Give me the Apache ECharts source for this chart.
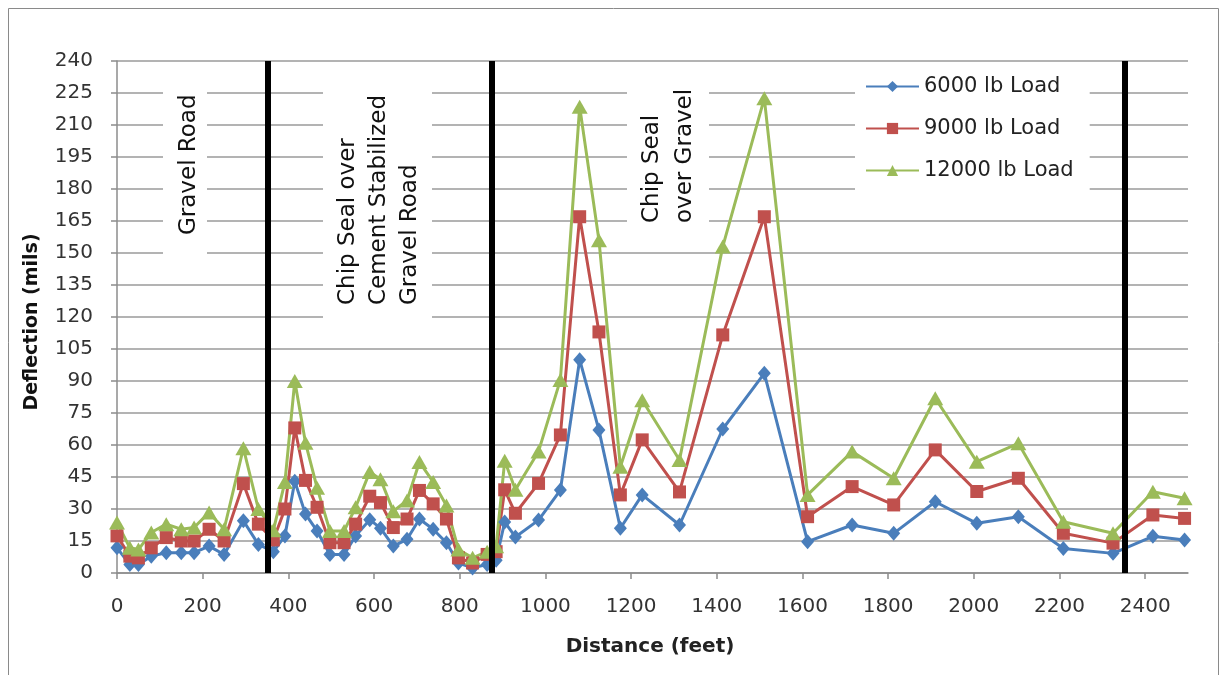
<!DOCTYPE html>
<html>
<head>
<meta charset="utf-8">
<script src="https://cdn.jsdelivr.net/npm/echarts@6/dist/echarts.min.js"></script>
<style>
html,body{margin:0;padding:0;background:#fff;}
#chart{width:1225px;height:675px;}
</style>
</head>
<body>
<div id="chart"></div>
<script>
// Distance along the road (feet)
var distance = [0, 30, 50, 80, 115, 150, 180, 215, 250, 295, 330, 365,
  392, 415, 440, 467, 497, 530, 557, 590, 615, 645, 677, 706, 738, 769, 797, 830, 864, 885,
  905, 930, 984, 1035, 1080, 1125, 1175, 1226, 1313, 1414, 1511, 1612, 1716, 1813, 1910, 2007, 2104, 2209, 2325, 2418, 2492];
// Deflection (mils)
var load6000 = [11.8, 4, 4, 7.9, 9.5, 9.5, 9.5, 12.6, 8.7, 24.5, 13.4, 10,
  17.4, 43, 27.6, 19.7, 8.7, 8.7, 17.4, 25, 21, 12.6, 15.8, 25.3, 20.5, 14.2, 4.7, 2.4, 4, 6,
  23.9, 16.9, 24.8, 38.9, 100, 67, 21, 36.6, 22.5, 67.5, 93.6, 14.7, 22.5, 18.6, 33.4, 23.3, 26.4, 11.5, 9.2, 17.2, 15.5];
var load9000 = [17.4, 7.9, 7.1, 11.8, 16.6, 15, 15, 20.5, 15, 41.9, 22.9, 15.5,
  30, 68, 43.4, 30.8, 14.2, 14.2, 22.9, 36, 33, 21.3, 25.3, 38.7, 32.4, 25.3, 7.1, 4.7, 8.7, 10,
  39, 28, 42, 64.7, 167, 113, 36.6, 62.4, 38, 111.6, 167, 26.4, 40.5, 31.9, 57.7, 38.2, 44.4, 18.6, 14, 27.2, 25.6];
var load12000 = [23.7, 11.8, 11, 19, 22.9, 20.5, 21.3, 28.4, 20.5, 58.5, 30, 20,
  42.7, 90, 61, 40, 19.7, 19.7, 30.8, 47.4, 44, 29, 34, 52, 42.7, 31.6, 11, 7.1, 10, 12.5,
  52.6, 39, 57, 90.5, 218.6, 156, 49.8, 81, 53, 153, 222.5, 36.6, 56.9, 44.4, 81.9, 52.2, 60.8, 24, 18.6, 38.1, 35];
var seriesNames = ['6000 lb Load', '9000 lb Load', '12000 lb Load'];
var sectionBreaks = [353, 874, 2352];
var sectionLabels = [['Gravel Road'], ['Chip Seal over', 'Cement Stabilized', 'Gravel Road'], ['Chip Seal', 'over Gravel']];

function pairs(vals) { return distance.map(function (d, i) { return [d, vals[i]]; }); }

var FONT = 'DejaVu Sans';
var chart = echarts.init(document.getElementById('chart'));

function rotText(x, y, txt, size, bold, align) {
  return {
    type: 'text', x: x, y: y, rotation: Math.PI / 2, z: 3,
    style: {
      text: txt, fill: '#111',
      font: (bold ? 'bold ' : '') + size + 'px "' + FONT + '"',
      align: align, verticalAlign: 'middle',
      textAlign: align, textVerticalAlign: 'middle'
    }
  };
}

var graphics = [
  { type: 'rect', shape: { x: 8.5, y: 8.5, width: 1210, height: 700 }, style: { fill: 'none', stroke: '#8a8a8a', lineWidth: 1 }, z: 0, silent: true },
  { type: 'rect', shape: { x: 163, y: 64, width: 44, height: 198 }, style: { fill: '#fff' }, z: 1, silent: true },
  { type: 'rect', shape: { x: 323, y: 64, width: 109, height: 258 }, style: { fill: '#fff' }, z: 1, silent: true },
  { type: 'rect', shape: { x: 627, y: 64, width: 82, height: 166 }, style: { fill: '#fff' }, z: 1, silent: true },
  rotText(189, 235, sectionLabels[0][0], 23, false, 'left'),
  rotText(348, 305, sectionLabels[1][0], 23, false, 'left'),
  rotText(379, 305, sectionLabels[1][1], 23, false, 'left'),
  rotText(410, 305, sectionLabels[1][2], 23, false, 'left'),
  rotText(652, 223, sectionLabels[2][0], 23, false, 'left'),
  rotText(685, 223, sectionLabels[2][1], 23, false, 'left'),
  rotText(32, 322, 'Deflection (mils)', 19, true, 'center'),
  { type: 'text', x: 650, y: 647, z: 3,
    style: { text: 'Distance (feet)', fill: '#222', font: 'bold 20px "' + FONT + '"',
      align: 'center', verticalAlign: 'middle', textAlign: 'center', textVerticalAlign: 'middle' } }
];

var axisColor = '#8c8c8c';
var option = {
  animation: false,
  backgroundColor: '#fff',
  grid: { left: 117, right: 37, top: 61, bottom: 102 },
  legend: {
    data: seriesNames,
    orient: 'vertical',
    left: 855, top: 62,
    padding: [14, 16, 14, 10],
    itemGap: 21,
    itemWidth: 53, itemHeight: 14,
    backgroundColor: '#fff',
    textStyle: { fontFamily: FONT, fontSize: 21, color: '#222' }
  },
  xAxis: {
    type: 'value', min: 0, max: 2500, interval: 200,
    splitLine: { show: false },
    axisLine: { show: true, lineStyle: { color: axisColor, width: 1.5 } },
    axisTick: { show: true, length: 6, lineStyle: { color: axisColor, width: 1.5 } },
    axisLabel: { fontFamily: FONT, fontSize: 20, color: '#333', margin: 24, showMaxLabel: false,
      formatter: function (v) { return String(v); } }
  },
  yAxis: {
    type: 'value', min: 0, max: 240, interval: 15,
    axisLine: { show: true, lineStyle: { color: axisColor, width: 1.5 } },
    axisTick: { show: true, length: 6, lineStyle: { color: axisColor, width: 1.5 } },
    splitLine: { show: true, lineStyle: { color: '#9a9a9a', width: 1.5 } },
    axisLabel: { fontFamily: FONT, fontSize: 20, color: '#333', margin: 24 }
  },
  series: [
    { name: seriesNames[0], type: 'line', data: pairs(load6000), symbol: 'diamond', symbolSize: [13, 15],
      lineStyle: { width: 3, color: '#4A7EBB' }, itemStyle: { color: '#4A7EBB' }, z: 2 },
    { name: seriesNames[1], type: 'line', data: pairs(load9000), symbol: 'rect', symbolSize: 13,
      lineStyle: { width: 3, color: '#C0504D' }, itemStyle: { color: '#C0504D' }, z: 2 },
    { name: seriesNames[2], type: 'line', data: pairs(load12000), symbol: 'triangle', symbolSize: [16, 14],
      lineStyle: { width: 3, color: '#9BBB59' }, itemStyle: { color: '#9BBB59' }, z: 2 },
    { name: 'breaks', type: 'line', data: [], z: 5, silent: true,
      markLine: { silent: true, symbol: ['none', 'none'], label: { show: false },
        lineStyle: { color: '#000', width: 6, type: 'solid' },
        data: sectionBreaks.map(function (b) { return { xAxis: b }; }) } }
  ],
  graphic: graphics
};
chart.setOption(option);
</script>
</body>
</html>
